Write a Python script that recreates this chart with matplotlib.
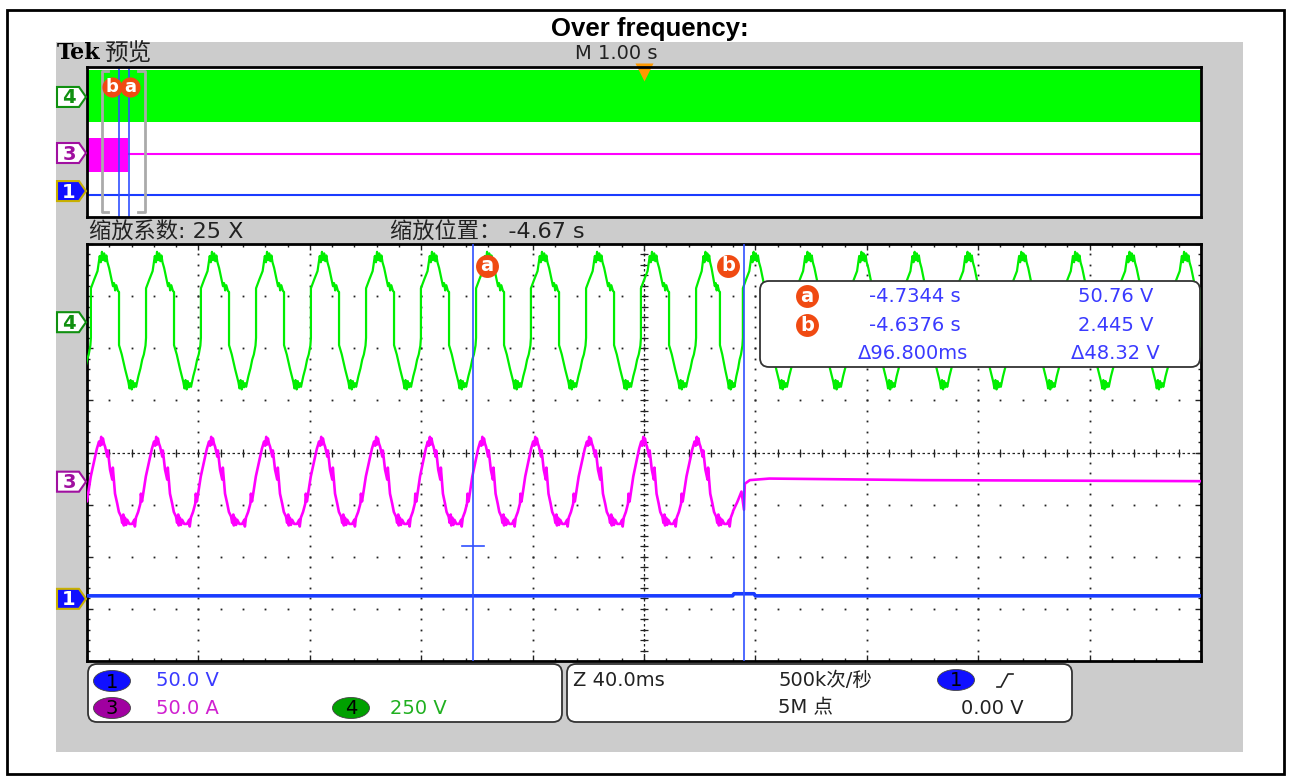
import numpy as np
import matplotlib.pyplot as plt
from matplotlib.patches import Rectangle, FancyBboxPatch, Polygon, Ellipse

plt.rcParams['font.family'] = ['DejaVu Sans', 'Noto Sans CJK SC']

# ---- zoom window data (40 ms/div, time from left edge of screen, levels in div) ----
# ch4 (green): time of each sharp rising edge
ch4_rise_ms = [-18.3, 1.4, 21.2, 40.9, 60.7, 80.4, 100.2, 119.9, 139.7, 159.4, 179.2,
               198.9, 218.7, 235.5, 254.8, 274.2, 293.4, 312.3, 331.6, 350.9, 370.4, 390.0]
# one ch4 cycle: phase 0..1, level in div around the offset
ch4_phase = [0.00, 0.00, 0.06, 0.12, 0.16, 0.18, 0.20, 0.22, 0.24, 0.26, 0.28, 0.30, 0.33,
             0.38, 0.40, 0.42, 0.44, 0.46, 0.49, 0.51, 0.51, 0.56, 0.62, 0.68, 0.70, 0.72,
             0.74, 0.76, 0.78, 0.80, 0.82, 0.86, 0.90, 0.93, 0.96, 0.99, 1.00]
ch4_level = [-0.30, 0.65, 0.82, 0.98, 1.27, 1.15, 1.35, 1.19, 1.32, 1.17, 1.28, 1.15, 1.04,
             0.79, 0.69, 0.75, 0.61, 0.71, 0.60, 0.58, -0.44, -0.62, -0.90, -1.15, -1.27, -1.11,
             -1.29, -1.13, -1.25, -1.17, -1.24, -1.04, -0.88, -0.72, -0.62, -0.45, -0.30]
ch4_offset = 6.5

# ch3 (magenta current): time of each trough, then flat after the trip
ch3_trough_ms = [-3.6, 16.2, 35.9, 55.7, 75.4, 95.2, 114.9, 133.6, 152.6, 171.6, 191.4,
                 210.4, 229.8]
ch3_phase = [0.00, 0.04, 0.05, 0.07, 0.11, 0.15, 0.16, 0.18, 0.22, 0.25, 0.29, 0.33, 0.36,
             0.40, 0.42, 0.44, 0.45, 0.47, 0.49, 0.51, 0.55, 0.56, 0.60, 0.64, 0.65, 0.69,
             0.73, 0.76, 0.80, 0.82, 0.84, 0.85, 0.87, 0.89, 0.91, 0.95, 1.00]
ch3_level = [-0.81, -0.73, -0.86, -0.69, -0.58, -0.42, -0.23, -0.38, -0.10, 0.10, 0.29, 0.48,
             0.63, 0.77, 0.69, 0.86, 0.71, 0.83, 0.73, 0.67, 0.48, 0.60, 0.23, 0.04, 0.27,
             -0.23, -0.42, -0.58, -0.67, -0.79, -0.63, -0.84, -0.69, -0.83, -0.73, -0.81, -0.81]
ch3_offset = 3.44
ch3_trip_ms = 232.0
ch3_tail_ms = [232.0, 233.5, 235.0, 235.9, 236.2, 238.0, 245.0, 300.0, 400.0]
ch3_tail_div = [2.88, 3.05, 3.25, 2.90, 3.40, 3.47, 3.50, 3.47, 3.45]

# ch1 (blue)
ch1_ms = [0.0, 231.8, 232.3, 239.5, 240.0, 400.0]
ch1_div = [1.25, 1.25, 1.29, 1.29, 1.25, 1.25]

cursor_a_ms, cursor_b_ms = 138.6, 235.9
cursor_a_level = 2.21

# ---- preview data (whole record, 1 s/div) ----
prev_green_band = (5.07, 7.84)
prev_ch3_burst_s = (0.0, 0.368)
prev_ch3_band = (2.40, 4.21)
prev_ch3_level = 3.36
prev_ch1_level = 1.17
prev_zoom_s = (0.132, 0.518)
prev_cursor_a_s, prev_cursor_b_s = 0.374, 0.285
trigger_s = 5.0

# ---- readout ----
readout_time = ['-4.7344 s', '-4.6376 s', '\u039496.800ms']
readout_value = ['50.76 V', '2.445 V', '\u039448.32 V']

GREEN, MAG, BLUE = '#00ee00', '#ff00ff', '#1a3cff'
CUR, ORANGE, TXTBLUE = '#3050ff', '#f04a12', '#3a3aff'

W, H = 1291, 778
fig = plt.figure(figsize=(W / 100, H / 100), dpi=100)
bg = fig.add_axes([0, 0, 1, 1])
bg.set_xlim(0, W)
bg.set_ylim(H, 0)
bg.axis('off')

bg.add_patch(Rectangle((7, 10), 1277, 764, fill=False, ec='black', lw=2))
bg.add_patch(Rectangle((56, 42), 1187, 710, fc='#cccccc', ec='none'))
bg.text(650, 29, 'Over frequency:', ha='center', va='center', fontsize=18.5,
        fontweight='bold', family='Liberation Sans')


def px_axes(l, t, r, b, z=2):
    a = fig.add_axes([l / W, 1 - b / H, (r - l) / W, (b - t) / H], zorder=z)
    return a


def periodic_trace(starts, phase, level, offset):
    periods = np.diff(starts).tolist()
    periods.append(periods[-1])
    ts, ys = [], []
    for t0, p in zip(starts, periods):
        ts.append(t0 + np.asarray(phase) * p)
        ys.append(offset + np.asarray(level))
    return np.concatenate(ts), np.concatenate(ys)


# ---------------- preview ----------------
pv = px_axes(87, 67, 1201, 217)
pv.set_xlim(0, 10)
pv.set_ylim(0, 8)
pv.set_xticks([])
pv.set_yticks([])
for s in pv.spines.values():
    s.set_linewidth(2)
pv.fill_between([0, 10], *prev_green_band, color='#00ff00', lw=0)
pv.fill_between(prev_ch3_burst_s, *prev_ch3_band, color=MAG, lw=0)
pv.plot([prev_ch3_burst_s[1], 10], [prev_ch3_level] * 2, color=MAG, lw=1.5)
pv.axhline(prev_ch1_level, color=BLUE, lw=1.5)
z0, z1 = prev_zoom_s
pv.plot([z0 + 0.06, z0, z0, z0 + 0.06], [7.8, 7.8, 0.25, 0.25], color='#aaaaaa', lw=2)
pv.plot([z1 - 0.06, z1, z1, z1 - 0.06], [7.8, 7.8, 0.25, 0.25], color='#aaaaaa', lw=2)
pv.axvline(prev_cursor_a_s, color=CUR, lw=1.2)
pv.axvline(prev_cursor_b_s, color=CUR, lw=1.2)
for xs, lab in [(prev_cursor_b_s - 0.063, 'b'), (prev_cursor_a_s + 0.012, 'a')]:
    pv.plot(xs, 6.95, marker='o', ms=14.5, color=ORANGE, mec='none')
    pv.text(xs, 6.95, lab, color='white', fontsize=13, fontweight='bold',
            ha='center', va='center')
pv.plot(trigger_s, 7.72, marker='v', ms=13, color='#ff9900', mec='none', clip_on=False)

# ---------------- main zoom window ----------------
ax = px_axes(87, 244, 1201, 661)
ax.set_xlim(0, 400)
ax.set_ylim(0, 8)
ax.set_xticks(range(0, 401, 40))
ax.set_xticks(np.arange(0, 401, 8), minor=True)
ax.set_yticks(range(0, 9))
ax.set_yticks(np.arange(0, 8.01, 0.2), minor=True)
ax.tick_params(which='both', direction='in', top=True, right=True,
               labelbottom=False, labelleft=False, width=1, color='#222222')
ax.tick_params(which='major', length=4)
ax.tick_params(which='minor', length=2)
for s in ax.spines.values():
    s.set_linewidth(2)

dot = dict(ls='none', marker='s', ms=1.3, color='#222222', mew=0, zorder=1)
for xm in range(40, 400, 40):
    ax.plot(np.full(39, xm), np.arange(1, 40) * 0.2, **dot)
for yd in range(1, 8):
    ax.plot(np.arange(1, 50) * 8, np.full(49, yd), **dot)
ax.plot([200, 200], [0, 8], ls=(0, (2, 2)), color='#222222', lw=0.9, zorder=1)
ax.plot([0, 400], [4, 4], ls=(0, (2, 2)), color='#222222', lw=0.9, zorder=1)
ax.plot(np.full(41, 200), np.arange(0, 41) * 0.2, ls='none', marker='_', ms=6,
        color='#222222', mew=0.9, zorder=1)
ax.plot(np.arange(0, 51) * 8, np.full(51, 4), ls='none', marker='|', ms=6,
        color='#222222', mew=0.9, zorder=1)

t4, y4 = periodic_trace(ch4_rise_ms, ch4_phase, ch4_level, ch4_offset)
ax.plot(t4, y4, color=GREEN, lw=1.6, zorder=3)

t3, y3 = periodic_trace(ch3_trough_ms, ch3_phase, ch3_level, ch3_offset)
keep = t3 <= ch3_trip_ms
ax.plot(np.concatenate([t3[keep], ch3_tail_ms]), np.concatenate([y3[keep], ch3_tail_div]),
        color=MAG, lw=1.9, zorder=3)

ax.plot(ch1_ms, ch1_div, color=BLUE, lw=2.6, zorder=3)

ax.axvline(cursor_a_ms, color=CUR, lw=1.2, zorder=4)
ax.axvline(cursor_b_ms, color=CUR, lw=1.2, zorder=4)
ax.plot([cursor_a_ms - 4, cursor_a_ms + 4], [cursor_a_level] * 2, color=CUR, lw=1.2, zorder=4)
for xs, lab in [(cursor_a_ms + 5.0, 'a'), (cursor_b_ms - 5.7, 'b')]:
    ax.plot(xs, 7.58, marker='o', ms=16.5, color=ORANGE, mec='none', zorder=5)
    ax.text(xs, 7.58, lab, color='white', fontsize=14, fontweight='bold',
            ha='center', va='center', zorder=6)

# ---------------- overlay: labels, readout, info boxes ----------------
ov = fig.add_axes([0, 0, 1, 1], zorder=5)
ov.patch.set_alpha(0)
ov.set_xlim(0, W)
ov.set_ylim(H, 0)
ov.axis('off')


def main_px(div):
    return 661 - div * 417 / 8


def prev_px(div):
    return 217 - div * 150 / 8


def tag(yc, label, fc, ec, tc):
    x0, w, h = 57, 22, 20
    pts = [(x0, yc - h / 2), (x0 + w, yc - h / 2), (x0 + w + 7, yc),
           (x0 + w, yc + h / 2), (x0, yc + h / 2)]
    ov.add_patch(Polygon(pts, closed=True, fc=fc, ec=ec, lw=1.5))
    ov.text(x0 + w / 2 + 1, yc + 1, label, ha='center', va='center', color=tc,
            fontsize=14, fontweight='bold')


tag(prev_px(np.mean(prev_green_band)) + 1, '4', 'white', '#109010', '#109010')
tag(prev_px(prev_ch3_level) - 1, '3', 'white', '#a010a0', '#a010a0')
tag(prev_px(prev_ch1_level) - 4, '1', '#1010ff', '#c8b000', 'white')
tag(main_px(ch4_offset), '4', 'white', '#109010', '#109010')
tag(main_px(ch3_offset), '3', 'white', '#a010a0', '#a010a0')
tag(main_px(ch1_div[0]) + 3, '1', '#1010ff', '#c8b000', 'white')

ov.text(57, 53, 'Tek', family='DejaVu Serif', fontweight='bold', fontsize=16,
        ha='left', va='center')
ov.text(104, 53, '预览', fontsize=17, ha='left', va='center', color='#222222')
ov.text(575, 53, 'M 1.00 s', fontsize=14, ha='left', va='center', color='#222222')
ov.text(89, 232, '缩放系数: 25 X', fontsize=16, ha='left', va='center', color='#222222')
ov.text(390, 232, '缩放位置： -4.67 s', fontsize=16, ha='left', va='center', color='#222222')

# cursor readout
ov.add_patch(FancyBboxPatch((760, 281), 440, 86, boxstyle='round,pad=0,rounding_size=9',
                            fc='white', ec='#333333', lw=1.3))
rows_y = [296, 325, 353]
for lab, y in zip(['a', 'b'], rows_y):
    ov.plot(807, y, marker='o', ms=16.5, color=ORANGE, mec='none')
    ov.text(807, y, lab, color='white', fontsize=14, fontweight='bold',
            ha='center', va='center')
for i, (tt, vv) in enumerate(zip(readout_time, readout_value)):
    ov.text(961 if i < 2 else 968, rows_y[i], tt, color=TXTBLUE, fontsize=14,
            ha='right', va='center')
    ov.text(1153 if i < 2 else 1160, rows_y[i], vv, color=TXTBLUE, fontsize=14,
            ha='right', va='center')

# bottom info boxes
for x0, x1 in [(88, 562), (567, 1072)]:
    ov.add_patch(FancyBboxPatch((x0, 664), x1 - x0, 58,
                                boxstyle='round,pad=0,rounding_size=9',
                                fc='white', ec='#333333', lw=1.3))


def pill(xc, yc, label, fc):
    ov.add_patch(Ellipse((xc, yc), 37, 21, fc=fc, ec='#444444', lw=0.6))
    ov.text(xc, yc + 1, label, ha='center', va='center', fontsize=14, color='black')


pill(112, 681, '1', '#1010ff')
pill(112, 708, '3', '#a000a0')
pill(351, 708, '4', '#00a000')
ov.text(156, 681, '50.0 V', fontsize=14, color=TXTBLUE, ha='left', va='center')
ov.text(156, 708, '50.0 A', fontsize=14, color='#d020d0', ha='left', va='center')
ov.text(390, 708, '250 V', fontsize=14, color='#20b020', ha='left', va='center')

ov.text(573, 681, 'Z 40.0ms', fontsize=14, color='#222222', ha='left', va='center')
ov.text(778, 681, '500k次/秒', fontsize=14, color='#222222', ha='left', va='center')
ov.text(778, 708, '5M 点', fontsize=14, color='#222222', ha='left', va='center')
pill(956, 680, '1', '#1010ff')
ov.plot([997, 1001, 1008, 1013], [687, 687, 674, 674], color='#222222', lw=1.2)
ov.text(1024, 708, '0.00 V', fontsize=14, color='#222222', ha='right', va='center')

fig.savefig('out.png', dpi=100)
